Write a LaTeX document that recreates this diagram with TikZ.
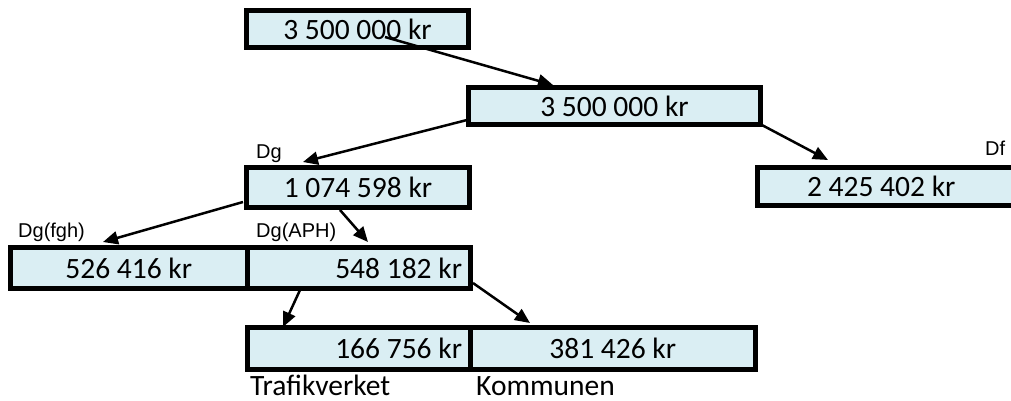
\documentclass[tikz,border=0pt]{standalone}
\usepackage{fontspec}
\setmainfont{Carlito}
\newfontfamily\arialf{Liberation Sans}
\usetikzlibrary{arrows.meta}
\definecolor{boxfill}{HTML}{DAEEF3}
\begin{document}
\begin{tikzpicture}[x=1pt,y=-1pt,
  box/.style={draw=black, line width=5pt, fill=boxfill, inner sep=0pt,
    font=\fontsize{29.5}{32}\selectfont},
  lbl/.style={anchor=base west, inner sep=0pt, font=\arialf\fontsize{20}{24}\selectfont},
  capt/.style={anchor=base west, inner sep=0pt, font=\fontsize{29.5}{32}\selectfont},
  arr/.style={-{Triangle[length=15pt,width=13pt]}, line width=2.5pt, draw=black}]
\useasboundingbox (0,0) rectangle (1011,401);
\clip (0,0) rectangle (1011,401);
% boxes
\node[box, minimum width=222pt, minimum height=37pt] (A) at (357.5,29) {3 500 000 kr};
\node[box, minimum width=292pt, minimum height=37pt] (B) at (614.5,106) {3 500 000 kr};
\node[box, minimum width=223pt, minimum height=40pt] (C) at (358,187.5) {1 074 598 kr};
\node[box, minimum width=262.5pt, minimum height=38pt] (D) at (888.75,186.5) {2 425 402 kr\hspace*{15pt}};
\node[box, minimum width=236.5pt, minimum height=41pt] (E) at (128.75,268) {526 416 kr};
\node[box, minimum width=223.5pt, minimum height=41pt] (F) at (358.75,268) {\makebox[206.5pt][r]{548 182 kr}};
\node[box, minimum width=222.5pt, minimum height=42pt] (G) at (358.75,348.5) {\makebox[206.5pt][r]{166 756 kr}};
\node[box, minimum width=285.5pt, minimum height=42pt] (H) at (612.75,348.5) {381 426 kr};
% labels
\node[lbl] (lDg) at (256,158) {Dg};
\node[lbl] (lDf) at (985,155) {Df};
\node[lbl] (lDgf) at (18,237) {Dg(fgh)};
\node[lbl] (lDga) at (256,237) {Dg(APH)};
\node[capt] (lT) at (250,395) {Trafikverket};
\node[capt] (lK) at (476,395) {Kommunen};
% connector end points
\coordinate (a1s) at (385,37);  \coordinate (a1e) at (553,85);
\coordinate (a2s) at (467,120); \coordinate (a2e) at (303,162);
\coordinate (a3s) at (760,124); \coordinate (a3e) at (828,160);
\coordinate (a4s) at (243,202); \coordinate (a4e) at (103,242);
\coordinate (a5s) at (340,210); \coordinate (a5e) at (368,242);
\coordinate (a6s) at (300,290); \coordinate (a6e) at (283,327);
\coordinate (a7s) at (473,283); \coordinate (a7e) at (530,323);
\draw[arr] (a1s) -- (a1e);
\draw[arr] (a2s) -- (a2e);
\draw[arr] (a3s) -- (a3e);
\draw[arr] (a4s) -- (a4e);
\draw[arr] (a5s) -- (a5e);
\draw[arr] (a6s) -- (a6e);
\draw[arr] (a7s) -- (a7e);
\end{tikzpicture}
\end{document}
